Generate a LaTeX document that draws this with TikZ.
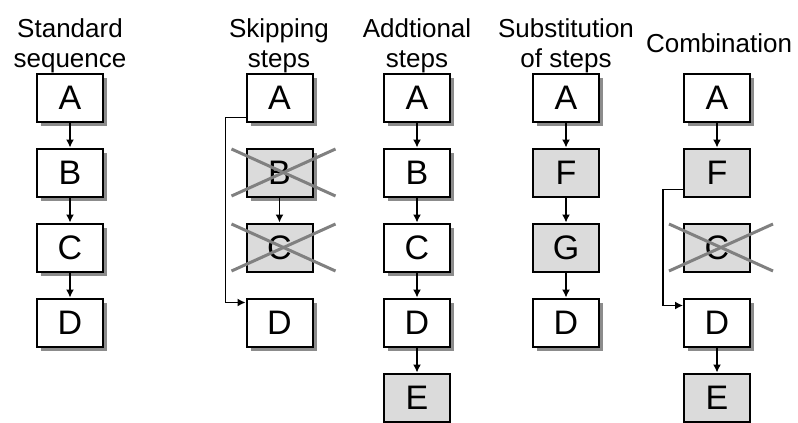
\documentclass[tikz,border=0pt]{standalone}
\usepackage{fontspec}
\setmainfont{Liberation Sans}
\usetikzlibrary{positioning, arrows.meta, shadows}

\begin{document}
\begin{tikzpicture}[
      node distance=12.5pt,
      stepbox/.style={rectangle, draw, fill=white, minimum width=33pt,
      minimum height=24pt, inner sep=0pt, line width=1pt,
      font=\fontsize{17}{20}\selectfont},
      shadowed/.style={drop shadow={shadow xshift=2pt, shadow yshift=-2pt,
      fill=black!45, opacity=1}},
      newstep/.style={fill=black!14},
      title/.style={align=center, font=\fontsize{13}{15}\selectfont},
      line/.style={draw, -{Latex[length=4pt, width=4pt]}, line width=0.7pt},
      cross/.style={draw=black!50, line width=1.5pt}
    ]
    \useasboundingbox (0,0) rectangle (399pt,-211.5pt);

    % column titles
    \node [title] (stT) at (35pt,-22.75pt) {Standard\\sequence};
    \node [title] (skT) at (139.5pt,-22.75pt) {Skipping\\steps};
    \node [title] (adT) at (208.5pt,-22.75pt) {Addtional\\steps};
    \node [title] (suT) at (283pt,-22.75pt) {Substitution\\of steps};
    \node [title] (coT) at (359.5pt,-21.5pt) {Combination};

    % standard sequence
    \node [stepbox, shadowed] (stA) at (35pt,-48.75pt) {A};
    \node [stepbox, shadowed, below=of stA] (stB) {B};
    \node [stepbox, shadowed, below=of stB] (stC) {C};
    \node [stepbox, shadowed, below=of stC] (stD) {D};

    % skipping steps
    \node [stepbox, shadowed] (skA) at (139.75pt,-48.75pt) {A};
    \node [stepbox, newstep, shadowed, below=of skA] (skB) {B};
    \node [stepbox, newstep, below=of skB] (skC) {C};
    \node [stepbox, shadowed, below=of skC] (skD) {D};

    % additional steps
    \node [stepbox, shadowed] (adA) at (208.5pt,-48.75pt) {A};
    \node [stepbox, shadowed, below=of adA] (adB) {B};
    \node [stepbox, shadowed, below=of adB] (adC) {C};
    \node [stepbox, shadowed, below=of adC] (adD) {D};
    \node [stepbox, newstep, below=of adD] (adE) {E};

    % substitution of steps
    \node [stepbox, shadowed] (suA) at (283pt,-48.75pt) {A};
    \node [stepbox, newstep, below=of suA] (suF) {F};
    \node [stepbox, newstep, below=of suF] (suG) {G};
    \node [stepbox, shadowed, below=of suG] (suD) {D};

    % combination
    \node [stepbox, shadowed] (coA) at (358.5pt,-48.75pt) {A};
    \node [stepbox, newstep, below=of coA] (coF) {F};
    \node [stepbox, newstep, below=of coF] (coC) {C};
    \node [stepbox, shadowed, below=of coC] (coD) {D};
    \node [stepbox, newstep, below=of coD] (coE) {E};

    \path [line] (stA) -- (stB);
    \path [line] (stB) -- (stC);
    \path [line] (stC) -- (stD);

    \path [line] (skB) -- (skC);
    \path [line] ([yshift=2.5pt]skA.south west) -- ++(-10pt,0)
      |- ([yshift=-2.5pt]skD.north west);

    \path [line] (adA) -- (adB);
    \path [line] (adB) -- (adC);
    \path [line] (adC) -- (adD);
    \path [line] (adD) -- (adE);

    \path [line] (suA) -- (suF);
    \path [line] (suF) -- (suG);
    \path [line] (suG) -- (suD);

    \path [line] (coA) -- (coF);
    \path [line] ([yshift=4pt]coF.south west) -- ++(-10pt,0)
      |- ([yshift=-4pt]coD.north west);
    \path [line] (coD) -- (coE);

    % struck-out steps
    \foreach \n in {skB, skC, coC} {
      \draw [cross] ([shift={(-24pt,-11.75pt)}]\n.center)
        -- ([shift={(28pt,11.75pt)}]\n.center);
      \draw [cross] ([shift={(-24pt,11.75pt)}]\n.center)
        -- ([shift={(28pt,-11.75pt)}]\n.center);
    }
  \end{tikzpicture}
\end{document}
